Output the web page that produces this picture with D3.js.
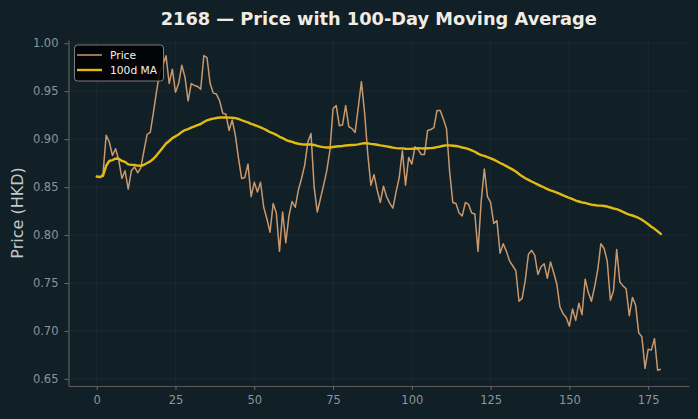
<!DOCTYPE html>
<html>
<head>
<meta charset="utf-8">
<script src="https://cdn.jsdelivr.net/npm/d3@7"></script>
<style>
  body { margin: 0; background: #111f26; }
  svg { display: block; }
</style>
</head>
<body>
<div id="chart"></div>
<script>

// daily closing prices (day 0 .. 179)
const price = [
  0.861, 0.860, 0.864, 0.904, 0.897, 0.883, 0.890, 0.878, 0.859, 0.867,
  0.848, 0.867, 0.871, 0.865, 0.870, 0.888, 0.905, 0.907, 0.928, 0.950,
  0.970, 0.977, 0.987, 0.958, 0.973, 0.949, 0.958, 0.977, 0.965, 0.940,
  0.958, 0.956, 0.955, 0.952, 0.987, 0.985, 0.958, 0.948, 0.947, 0.940,
  0.927, 0.926, 0.909, 0.920, 0.904, 0.880, 0.859, 0.860, 0.874, 0.840,
  0.855, 0.845, 0.855, 0.829, 0.817, 0.803, 0.833, 0.823, 0.783, 0.824,
  0.792, 0.820, 0.835, 0.829, 0.847, 0.859, 0.873, 0.897, 0.906, 0.850,
  0.824, 0.838, 0.852, 0.867, 0.888, 0.932, 0.935, 0.914, 0.915, 0.935,
  0.913, 0.911, 0.907, 0.933, 0.960, 0.928, 0.885, 0.852, 0.863, 0.847,
  0.834, 0.851, 0.840, 0.833, 0.828, 0.845, 0.860, 0.888, 0.852, 0.881,
  0.874, 0.892, 0.889, 0.884, 0.884, 0.909, 0.910, 0.912, 0.930, 0.930,
  0.921, 0.911, 0.866, 0.834, 0.833, 0.823, 0.820, 0.834, 0.832, 0.823,
  0.822, 0.783, 0.835, 0.869, 0.840, 0.834, 0.812, 0.815, 0.781, 0.791,
  0.783, 0.773, 0.768, 0.763, 0.731, 0.734, 0.753, 0.780, 0.784, 0.779,
  0.759, 0.767, 0.770, 0.755, 0.772, 0.761, 0.749, 0.725, 0.718, 0.714,
  0.705, 0.723, 0.711, 0.729, 0.717, 0.754, 0.740, 0.731, 0.746, 0.764,
  0.791, 0.786, 0.773, 0.732, 0.742, 0.785, 0.751, 0.747, 0.744, 0.716,
  0.735, 0.727, 0.698, 0.694, 0.661, 0.681, 0.680, 0.692, 0.659, 0.660
];

const maWindow = 100;
const xTicks = [0, 25, 50, 75, 100, 125, 150, 175];
const yTicks = [0.65, 0.70, 0.75, 0.80, 0.85, 0.90, 0.95, 1.00];
const seriesNames = ["Price", "100d MA"];

function main() {

    const W = 698, H = 419;
    const margin = {top: 40, right: 9, bottom: 33, left: 68.5},
        width = W - margin.left - margin.right,
        height = H - margin.top - margin.bottom;

    const bg = "#111f26", priceColor = "#c9996d", maColor = "#e2bb12";

    // rolling mean, shorter window at the start (min_periods = 1)
    const data = price.map((p, i) => ({
        day: i,
        price: p,
        ma: d3.mean(price.slice(Math.max(0, i - maWindow + 1), i + 1))
    }));

    const svg = d3.select("#chart")
        .append("svg")
        .attr("width", W)
        .attr("height", H)
        .style("font-family", "DejaVu Sans, sans-serif");

    svg.append("rect").attr("width", W).attr("height", H).attr("fill", bg);

    const g = svg.append("g")
        .attr("transform", `translate(${margin.left},${margin.top})`);

    // matplotlib style 5% padding
    const xPad = (data.length - 1) * 0.05;
    const x = d3.scaleLinear()
        .domain([-xPad, data.length - 1 + xPad])
        .range([0, width]);

    const [lo, hi] = d3.extent(price);
    const yPad = (hi - lo) * 0.05;
    const y = d3.scaleLinear()
        .domain([lo - yPad, hi + yPad])
        .range([height, 0]);

    // grid
    g.append("g")
        .selectAll("line.gx")
        .data(xTicks)
        .join("line")
        .attr("x1", d => x(d)).attr("x2", d => x(d))
        .attr("y1", 0).attr("y2", height)
        .attr("stroke", "#ffffff").attr("stroke-opacity", 0.045);
    g.append("g")
        .selectAll("line.gy")
        .data(yTicks)
        .join("line")
        .attr("x1", 0).attr("x2", width)
        .attr("y1", d => y(d)).attr("y2", d => y(d))
        .attr("stroke", "#ffffff").attr("stroke-opacity", 0.045);

    // axes
    const xAxis = g.append("g")
        .attr("transform", `translate(0,${height})`)
        .call(d3.axisBottom(x).tickValues(xTicks).tickSize(4).tickPadding(6).tickSizeOuter(0));
    const yAxis = g.append("g")
        .call(d3.axisLeft(y).tickValues(yTicks).tickFormat(d3.format(".2f")).tickSize(4).tickPadding(6).tickSizeOuter(0));

    [xAxis, yAxis].forEach(a => {
        a.select(".domain").attr("stroke", "#5b5b5b").attr("stroke-width", 1.2);
        a.selectAll(".tick line").attr("stroke", "#6b6b6b");
        a.selectAll(".tick text")
            .attr("fill", "#8c9599")
            .style("font-size", "11.5px")
            .style("font-family", "DejaVu Sans, sans-serif");
    });

    // lines
    g.append("path")
        .datum(data)
        .attr("fill", "none")
        .attr("stroke", priceColor)
        .attr("stroke-width", 1.5)
        .attr("stroke-linejoin", "round")
        .attr("d", d3.line()
            .x(d => x(d.day))
            .y(d => y(d.price)));

    g.append("path")
        .datum(data)
        .attr("fill", "none")
        .attr("stroke", maColor)
        .attr("stroke-width", 2.4)
        .attr("stroke-linejoin", "round")
        .attr("stroke-linecap", "round")
        .attr("d", d3.line()
            .x(d => x(d.day))
            .y(d => y(d.ma)));

    // title
    svg.append("text")
        .attr("x", margin.left + width / 2)
        .attr("y", 25)
        .attr("text-anchor", "middle")
        .attr("fill", "#f0ece4")
        .style("font-size", "17.8px")
        .style("font-weight", "bold")
        .text("2168 — Price with 100-Day Moving Average");

    // y label
    svg.append("text")
        .attr("transform", `translate(23,${margin.top + height / 2}) rotate(-90)`)
        .attr("text-anchor", "middle")
        .attr("fill", "#c4c8ca")
        .style("font-size", "16px")
        .text("Price (HKD)");

    // legend
    const lg = g.append("g").attr("transform", "translate(6,5)");
    lg.append("rect")
        .attr("width", 89).attr("height", 36)
        .attr("rx", 3)
        .attr("fill", "#000000").attr("fill-opacity", 0.85)
        .attr("stroke", "#9a9a9a").attr("stroke-width", 0.8);
    seriesNames.forEach((name, i) => {
        const row = lg.append("g").attr("transform", `translate(0,${10 + i * 15})`);
        row.append("line")
            .attr("x1", 2.5).attr("x2", 27.5)
            .attr("stroke", i === 0 ? priceColor : maColor)
            .attr("stroke-width", i === 0 ? 1.5 : 2.4);
        row.append("text")
            .attr("x", 35.5).attr("y", 4)
            .attr("fill", "#f2f2f2")
            .style("font-size", "10.7px")
            .text(name);
    });
}

main()
</script>
</body>
</html>
